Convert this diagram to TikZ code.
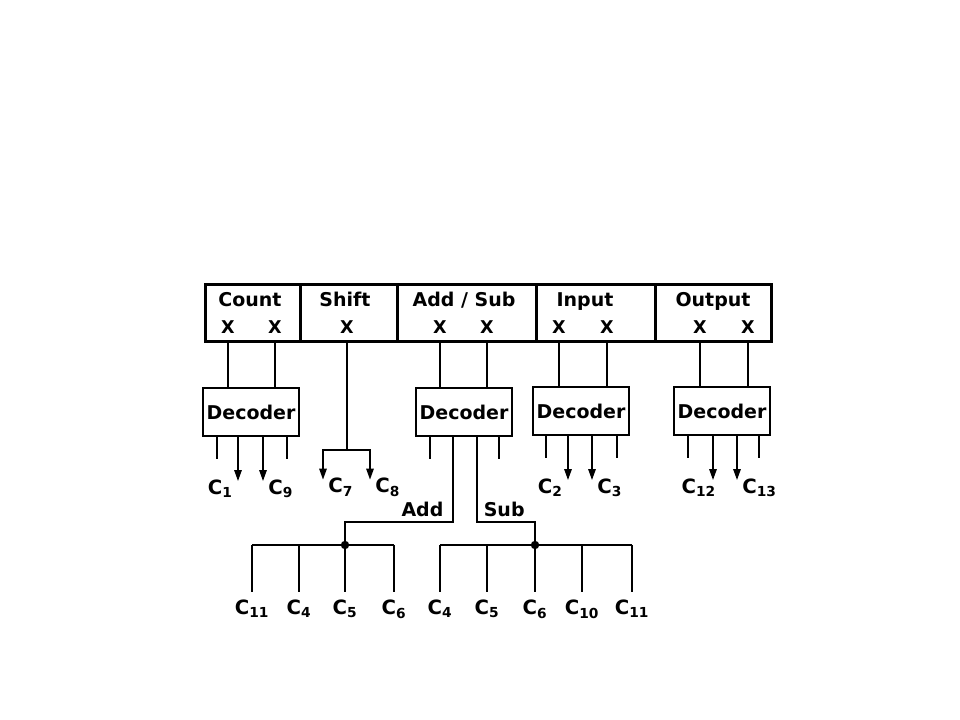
\documentclass[tikz,border=0pt]{standalone}
\usepackage{fontspec}
\setmainfont{DejaVu Sans}
\usetikzlibrary{arrows.meta,positioning}

\begin{document}
\begin{tikzpicture}[x=0.025cm, y=-0.025cm, line width=1.7pt]

    \tikzstyle{field} = [
        rectangle,
        draw,
        line width=2pt,
        anchor=north west,
        minimum height=1.425cm,
        inner sep=0pt,
    ]
    \tikzstyle{decoder} = [
        rectangle,
        draw,
        line width=2pt,
        minimum width=2.4cm,
        minimum height=1.2cm,
        inner sep=0pt,
        font=\bfseries\fontsize{13.5}{15}\selectfont,
    ]
    \tikzstyle{title} = [
        inner sep=0pt,
        anchor=base,
        font=\bfseries\fontsize{13.5}{16}\selectfont,
    ]
    \tikzstyle{bit} = [
        inner sep=0pt,
        font=\bfseries\fontsize{12.5}{14}\selectfont,
    ]
    \tikzstyle{signal} = [
        inner sep=1pt,
        font=\bfseries\fontsize{14}{16}\selectfont,
    ]
    \tikzstyle{line} = [
        draw,
        -{Triangle[length=8pt,width=5pt]},
    ]

    \useasboundingbox (0,0) rectangle (960,720);

    % instruction register
    \node [field, minimum width=2.375cm] (cnt) at (204,283) {};
    \node [field, minimum width=2.425cm] (shf) at (299,283) {};
    \node [field, minimum width=3.475cm] (ads) at (396,283) {};
    \node [field, minimum width=2.975cm] (inp) at (535,283) {};
    \node [field, minimum width=2.9cm]   (out) at (654,283) {};

    \node [title] at (250,307) {Count};
    \node [title] at (345,307) {Shift};
    \node [title] at (464,307) {Add / Sub};
    \node [title] at (585,307) {Input};
    \node [title] at (713,307) {Output};

    \node [bit] (cnta) at (228,327) {X};
    \node [bit] (cntb) at (275,327) {X};
    \node [bit] (shfa) at (347,327) {X};
    \node [bit] (adsa) at (440,327) {X};
    \node [bit] (adsb) at (487,327) {X};
    \node [bit] (inpa) at (559,327) {X};
    \node [bit] (inpb) at (607,327) {X};
    \node [bit] (outa) at (700,327) {X};
    \node [bit] (outb) at (748,327) {X};

    % decoders
    \node [decoder] (dcnt) at (251,412) {Decoder};
    \node [decoder] (dads) at (464,412) {Decoder};
    \node [decoder] (dinp) at (581,411) {Decoder};
    \node [decoder] (dout) at (722,411) {Decoder};

    \draw (cnta |- cnt.south) -- (cnta |- dcnt.north);
    \draw (cntb |- cnt.south) -- (cntb |- dcnt.north);
    \draw (adsa |- ads.south) -- (adsa |- dads.north);
    \draw (adsb |- ads.south) -- (adsb |- dads.north);
    \draw (inpa |- inp.south) -- (inpa |- dinp.north);
    \draw (inpb |- inp.south) -- (inpb |- dinp.north);
    \draw (outa |- out.south) -- (outa |- dout.north);
    \draw (outb |- out.south) -- (outb |- dout.north);

    % decoder outputs
    \draw (dcnt.south) ++(-34,0) -- ++(0,22);
    \draw (dcnt.south) ++(36,0) -- ++(0,22);
    \path [line] (dcnt.south) ++(-13,0) -- ++(0,44)
        node [signal, anchor=north east, xshift=-2pt, yshift=3pt] {C\textsubscript{1}};
    \path [line] (dcnt.south) ++(12,0) -- ++(0,44)
        node [signal, anchor=north west, xshift=2pt, yshift=3pt] {C\textsubscript{9}};

    \draw (dads.south) ++(-34,0) -- ++(0,22);
    \draw (dads.south) ++(35,0) -- ++(0,22);

    \draw (dinp.south) ++(-35,0) -- ++(0,22);
    \draw (dinp.south) ++(36,0) -- ++(0,22);
    \path [line] (dinp.south) ++(-13,0) -- ++(0,44)
        node [signal, anchor=north east, xshift=-2pt, yshift=3pt] {C\textsubscript{2}};
    \path [line] (dinp.south) ++(11,0) -- ++(0,44)
        node [signal, anchor=north west, xshift=2pt, yshift=3pt] {C\textsubscript{3}};

    \draw (dout.south) ++(-34,0) -- ++(0,22);
    \draw (dout.south) ++(37,0) -- ++(0,22);
    \path [line] (dout.south) ++(-9,0) -- ++(0,44)
        node [signal, anchor=north east, xshift=4pt, yshift=3pt] {C\textsubscript{12}};
    \path [line] (dout.south) ++(15,0) -- ++(0,44)
        node [signal, anchor=north west, xshift=2pt, yshift=3pt] {C\textsubscript{13}};

    % shift
    \coordinate (shfbend) at (347,450);
    \coordinate (c7end) at (323,480);
    \coordinate (c8end) at (370,480);
    \draw (shfa |- shf.south) -- (shfbend);
    \path [line] (shfbend) -| (c7end)
        node [signal, anchor=north west, xshift=2pt, yshift=3pt] {C\textsubscript{7}};
    \path [line] (shfbend) -| (c8end)
        node [signal, anchor=north west, xshift=2pt, yshift=3pt] {C\textsubscript{8}};

    % add / sub
    \coordinate (addbend) at (453,522);
    \coordinate (subbend) at (477,522);
    \coordinate (addhub) at (345,545);
    \coordinate (subhub) at (535,545);

    \draw (addbend |- dads.south) -- (addbend)
        node [title, anchor=south east, xshift=-6pt, yshift=3pt] {Add} -| (addhub);
    \draw (subbend |- dads.south) -- (subbend)
        node [title, anchor=south west, xshift=4pt, yshift=3pt] {Sub} -| (subhub);
    \fill (addhub) circle [radius=3pt];
    \fill (subhub) circle [radius=3pt];

    \draw (252,545) -- (394,545);
    \foreach \x/\c in {252/11, 299/4, 345/5, 394/6}
        \draw (\x,545) -- (\x,592)
            node [signal, below, yshift=-4pt] {C\textsubscript{\c}};

    \draw (440,545) -- (632,545);
    \foreach \x/\c in {440/4, 487/5, 535/6, 582/10, 632/11}
        \draw (\x,545) -- (\x,592)
            node [signal, below, yshift=-4pt] {C\textsubscript{\c}};

\end{tikzpicture}
\end{document}
